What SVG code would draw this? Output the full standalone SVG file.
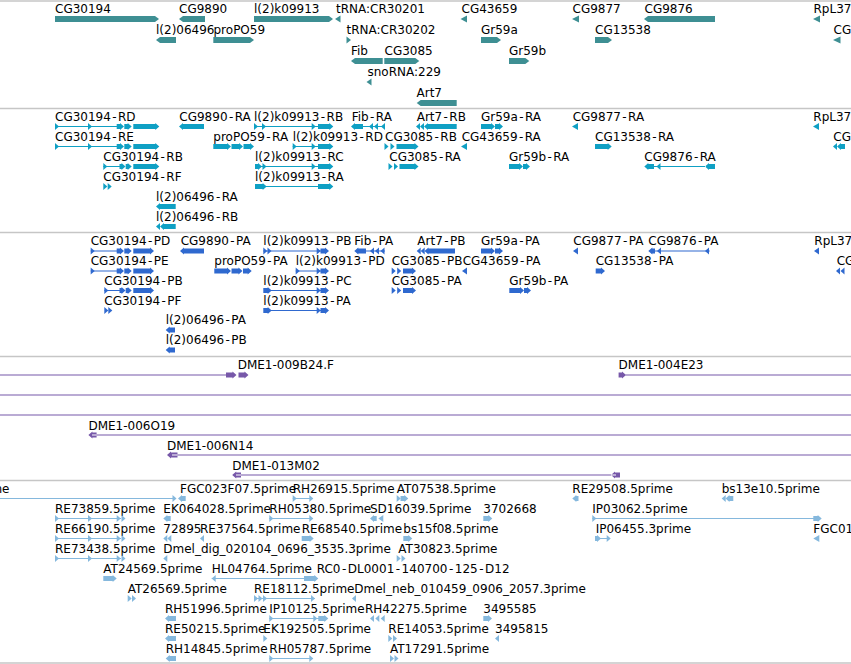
<svg xmlns="http://www.w3.org/2000/svg" width="851" height="664" viewBox="0 0 851 664">
<style>
text{font-family:"DejaVu Sans","Liberation Sans",sans-serif;font-size:12px;fill:#000}
.g{fill:#3e8f93}.t{fill:#0fa0c4}.p{fill:#2f69cf}.c{fill:#7758a9}.e{fill:#85b8dd}
.sep{stroke:#c6c6c6;stroke-width:1.5}
</style>
<defs>
<path id="tf" d="M0 -3.5L4 0L0 3.5Z"/>
<path id="tr" d="M0 0L4 -3.5V3.5Z"/>
</defs>
<rect width="851" height="664" fill="#fff"/>
<g id="tracks">
<line class="sep" x1="0" y1="1" x2="851" y2="1"/>
<line class="sep" x1="0" y1="108.5" x2="851" y2="108.5"/>
<line class="sep" x1="0" y1="232.5" x2="851" y2="232.5"/>
<line class="sep" x1="0" y1="356.5" x2="851" y2="356.5"/>
<line class="sep" x1="0" y1="480.5" x2="851" y2="480.5"/>
<line class="sep" x1="0" y1="663" x2="851" y2="663"/>
</g>

<!-- Track 1: genes -->
<g id="gene-CG30194" class="g" transform="translate(0,19)"><text x="55" y="-6.3">CG30194</text><path d="M55 -3h100l4 3l-4 3h-100z"/></g>
<g id="gene-CG9890" class="g" transform="translate(0,19)"><text x="179" y="-6.3">CG9890</text><path d="M205 -3h-22l-4 3l4 3h22z"/></g>
<g id="gene-l2k09913" class="g" transform="translate(0,19)"><text x="254" y="-6.3">l(2)k09913</text><path d="M254 -3h75l4 3l-4 3h-75z"/></g>
<g id="gene-tRNA-CR30201" class="g" transform="translate(0,19)"><text x="336" y="-6.3">tRNA:CR30201</text><path d="M335 0l5.5-3.5v7z"/></g>
<g id="gene-CG43659" class="g" transform="translate(0,19)"><text x="461.5" y="-6.3">CG43659</text><path d="M460.5 0l6.5-3.5v7z"/></g>
<g id="gene-CG9877" class="g" transform="translate(0,19)"><text x="572.5" y="-6.3">CG9877</text><path d="M572 0l7-3.5v7z"/></g>
<g id="gene-CG9876" class="g" transform="translate(0,19)"><text x="644.5" y="-6.3">CG9876</text><path d="M715 -3h-67l-4 3l4 3h67z"/></g>
<g id="gene-RpL37" class="g" transform="translate(0,19)"><text x="813.5" y="-6.3">RpL37</text><path d="M813 0l7-3.5v7z"/></g>

<g id="gene-l2-06496" class="g" transform="translate(0,40)"><text x="156" y="-6.3">l(2)06496</text><path d="M176 -3h-16l-4 3l4 3h16z"/></g>
<g id="gene-proPO59" class="g" transform="translate(0,40)"><text x="213.5" y="-6.3">proPO59</text><path d="M213.3 -3h36.7l4 3l-4 3h-36.7z"/></g>
<g id="gene-tRNA-CR30202" class="g" transform="translate(0,40)"><text x="346.5" y="-6.3">tRNA:CR30202</text><path d="M346.5 -3.5l4.5 3.5l-4.5 3.5z"/></g>
<g id="gene-Gr59a" class="g" transform="translate(0,40)"><text x="481" y="-6.3">Gr59a</text><path d="M481 -3h16l4 3l-4 3h-16z"/></g>
<g id="gene-CG13538" class="g" transform="translate(0,40)"><text x="595" y="-6.3">CG13538</text><path d="M595 -3h13l4 3l-4 3h-13z"/></g>
<g id="gene-CG-edge" class="g" transform="translate(0,40)"><text x="833.5" y="-6.3">CG</text><path d="M833 0l7.5-3.5v7z"/></g>

<g id="gene-Fib" class="g" transform="translate(0,61)"><text x="351" y="-6.3">Fib</text><path d="M382.7 -3h-27.7l-4 3l4 3h27.7z"/></g>
<g id="gene-CG3085" class="g" transform="translate(0,61)"><text x="384.5" y="-6.3">CG3085</text><path d="M384.3 -3h31l4 3l-4 3h-31z"/></g>
<g id="gene-Gr59b" class="g" transform="translate(0,61)"><text x="509" y="-6.3">Gr59b</text><path d="M509 -3h16.3l4 3l-4 3h-16.3z"/></g>
<g id="gene-snoRNA-229" class="g" transform="translate(0,82)"><text x="367.5" y="-6.3">snoRNA:229</text><path d="M366.5 0l5-3.5v7z"/></g>
<g id="gene-Art7" class="g" transform="translate(0,103)"><text x="416.5" y="-6.3">Art7</text><path d="M456.7 -3h-36l-4 3l4 3h36z"/></g>

<!-- Track 2: transcripts -->
<g id="tx-CG30194-RD" class="t" transform="translate(0,126.5)"><text x="55" y="-5.5">CG30194<tspan dx="1.4">-</tspan><tspan dx="1.4">RD</tspan></text><path d="M55 -0.5H117v1H55z M116.7 -2.5h3.3v-1l4 3.5l-4 3.5v-1h-3.3z M124.3 -2.5h3.4v-1l4 3.5l-4 3.5v-1h-3.4z M133.3 -2.5h22v-1l4 3.5l-4 3.5v-1h-22z"/><use href="#tf" x="55"/><use href="#tf" x="88"/></g>
<g id="tx-CG9890-RA" class="t" transform="translate(0,126.5)"><text x="179.3" y="-5.5">CG9890<tspan dx="1.4">-</tspan><tspan dx="1.4">RA</tspan></text><path d="M204 -2.5h-21v-1l-4 3.5l4 3.5v-1h21z"/></g>
<g id="tx-l2k09913-RB" class="t" transform="translate(0,126.5)"><text x="254" y="-5.5">l(2)k09913<tspan dx="1.4">-</tspan><tspan dx="1.4">RB</tspan></text><path d="M254 -0.5H318v1H254z M318 -2.5h11.3v-1l4 3.5l-4 3.5v-1h-11.3z"/><use href="#tf" x="254"/><use href="#tf" x="262"/><use href="#tf" x="311.7"/></g>
<g id="tx-Fib-RA" class="t" transform="translate(0,126.5)"><text x="351.7" y="-5.5">Fib<tspan dx="1.4">-</tspan><tspan dx="1.4">RA</tspan></text><path d="M363 -2.5h-8v-1l-4 3.5l4 3.5v-1h8z M363 -0.5H385v1H363z"/><use href="#tr" x="369"/><use href="#tr" x="374"/><use href="#tr" x="381"/></g>
<g id="tx-Art7-RB" class="t" transform="translate(0,126.5)"><text x="416.7" y="-5.5">Art7<tspan dx="1.4">-</tspan><tspan dx="1.4">RB</tspan></text><path d="M456.7 -2.5h-28.7v-1l-4 3.5l4 3.5v-1h28.7z"/><use href="#tr" x="416"/><use href="#tr" x="420"/></g>
<g id="tx-Gr59a-RA" class="t" transform="translate(0,126.5)"><text x="481" y="-5.5">Gr59a<tspan dx="1.4">-</tspan><tspan dx="1.4">RA</tspan></text><path d="M481 -2.5h10v-1l4 3.5l-4 3.5v-1h-10z M495 -2.5h4v-1l4 3.5l-4 3.5v-1h-4z"/></g>
<g id="tx-CG9877-RA" class="t" transform="translate(0,126.5)"><text x="572.7" y="-5.5">CG9877<tspan dx="1.4">-</tspan><tspan dx="1.4">RA</tspan></text><path d="M572 0l6-3.5v7z"/></g>
<g id="tx-RpL37" class="t" transform="translate(0,126.5)"><text x="813.3" y="-5.5">RpL37</text><path d="M813 0l6-3.5v7z"/></g>

<g id="tx-CG30194-RE" class="t" transform="translate(0,146.5)"><text x="55" y="-5.5">CG30194<tspan dx="1.4">-</tspan><tspan dx="1.4">RE</tspan></text><path d="M55 -0.5H117v1H55z M116.7 -2.5h3.3v-1l4 3.5l-4 3.5v-1h-3.3z M124.3 -2.5h3.4v-1l4 3.5l-4 3.5v-1h-3.4z M133.3 -2.5h22v-1l4 3.5l-4 3.5v-1h-22z"/><use href="#tf" x="55"/><use href="#tf" x="88"/></g>
<g id="tx-proPO59-RA" class="t" transform="translate(0,146.5)"><text x="213.3" y="-5.5">proPO59<tspan dx="1.4">-</tspan><tspan dx="1.4">RA</tspan></text><path d="M213.3 -2.5h13.7v-1l4 3.5l-4 3.5v-1h-13.7z M231.5 -2.5h7.5v-1l4 3.5l-4 3.5v-1h-7.5z M243.5 -2.5h6.5v-1l4 3.5l-4 3.5v-1h-6.5z"/></g>
<g id="tx-l2k09913-RD" class="t" transform="translate(0,146.5)"><text x="292.7" y="-5.5">l(2)k09913<tspan dx="1.4">-</tspan><tspan dx="1.4">RD</tspan></text><path d="M292.7 -0.5H318v1H292.7z M318 -2.5h11.3v-1l4 3.5l-4 3.5v-1h-11.3z"/><use href="#tf" x="292.7"/><use href="#tf" x="311.7"/></g>
<g id="tx-CG3085-RB" class="t" transform="translate(0,146.5)"><text x="385" y="-5.5">CG3085<tspan dx="1.4">-</tspan><tspan dx="1.4">RB</tspan></text><path d="M396.5 -2.5h18v-1l4 3.5l-4 3.5v-1h-18z"/><use href="#tf" x="384.5"/><use href="#tf" x="390.5"/></g>
<g id="tx-CG43659-RA" class="t" transform="translate(0,146.5)"><text x="461.7" y="-5.5">CG43659<tspan dx="1.4">-</tspan><tspan dx="1.4">RA</tspan></text><path d="M461 0l6-3.5v7z"/></g>
<g id="tx-CG13538-RA" class="t" transform="translate(0,146.5)"><text x="595" y="-5.5">CG13538<tspan dx="1.4">-</tspan><tspan dx="1.4">RA</tspan></text><path d="M595 -2.5h12.7v-1l4 3.5l-4 3.5v-1h-12.7z"/></g>
<g id="tx-CG-edge" class="t" transform="translate(0,146.5)"><text x="833.3" y="-5.5">CG</text><path d="M845 -2.5h-4v-1l-4 3.5l4 3.5v-1h4z"/><use href="#tr" x="833"/></g>

<g id="tx-CG30194-RB" class="t" transform="translate(0,166.5)"><text x="103.3" y="-5.5">CG30194<tspan dx="1.4">-</tspan><tspan dx="1.4">RB</tspan></text><path d="M103.3 -0.5H120v1H103.3z M119.5 -2.5h2v-1l4 3.5l-4 3.5v-1h-2z M125.7 -2.5h2v-1l4 3.5l-4 3.5v-1h-2z M133.3 -2.5h22v-1l4 3.5l-4 3.5v-1h-22z"/><use href="#tf" x="103.3"/></g>
<g id="tx-l2k09913-RC" class="t" transform="translate(0,166.5)"><text x="255" y="-5.5">l(2)k09913<tspan dx="1.4">-</tspan><tspan dx="1.4">RC</tspan></text><path d="M255 -0.5H318v1H255z M255 -2.5h3v-1l4 3.5l-4 3.5v-1h-3z M318 -2.5h11.3v-1l4 3.5l-4 3.5v-1h-11.3z"/><use href="#tf" x="262.5"/><use href="#tf" x="311.7"/></g>
<g id="tx-CG3085-RA" class="t" transform="translate(0,166.5)"><text x="389.3" y="-5.5">CG3085<tspan dx="1.4">-</tspan><tspan dx="1.4">RA</tspan></text><path d="M399.5 -2.5h15v-1l4 3.5l-4 3.5v-1h-15z"/><use href="#tf" x="388.5"/><use href="#tf" x="394"/></g>
<g id="tx-Gr59b-RA" class="t" transform="translate(0,166.5)"><text x="509" y="-5.5">Gr59b<tspan dx="1.4">-</tspan><tspan dx="1.4">RA</tspan></text><path d="M509 -2.5h10v-1l4 3.5l-4 3.5v-1h-10z M523 -2.5h3v-1l4 3.5l-4 3.5v-1h-3z"/></g>
<g id="tx-CG9876-RA" class="t" transform="translate(0,166.5)"><text x="644.3" y="-5.5">CG9876<tspan dx="1.4">-</tspan><tspan dx="1.4">RA</tspan></text><path d="M654 -2.5h-5.7v-1l-4 3.5l4 3.5v-1h5.7z M654 -0.5H706v1H654z M715 -2.5h-6v-1l-4 3.5l4 3.5v-1h6z"/><use href="#tr" x="656.5"/></g>

<g id="tx-CG30194-RF" class="t" transform="translate(0,186.5)"><text x="103.3" y="-5.5">CG30194<tspan dx="1.4">-</tspan><tspan dx="1.4">RF</tspan></text><use href="#tf" x="103.3"/><use href="#tf" x="107.7"/></g>
<g id="tx-l2k09913-RA" class="t" transform="translate(0,186.5)"><text x="255" y="-5.5">l(2)k09913<tspan dx="1.4">-</tspan><tspan dx="1.4">RA</tspan></text><path d="M255 -0.5H318v1H255z M255 -2.5h7.7v-1l4 3.5l-4 3.5v-1h-7.7z M318 -2.5h11.3v-1l4 3.5l-4 3.5v-1h-11.3z"/></g>
<g id="tx-l2-06496-RA" class="t" transform="translate(0,206.5)"><text x="156" y="-5.5">l(2)06496<tspan dx="1.4">-</tspan><tspan dx="1.4">RA</tspan></text><path d="M175.7 -2.5h-15.7v-1l-4 3.5l4 3.5v-1h15.7z"/></g>
<g id="tx-l2-06496-RB" class="t" transform="translate(0,226.5)"><text x="156" y="-5.5">l(2)06496<tspan dx="1.4">-</tspan><tspan dx="1.4">RB</tspan></text><path d="M175.7 -2.5h-11.7v-1l-4 3.5l4 3.5v-1h11.7z"/><use href="#tr" x="156"/></g>

<!-- Track 3: proteins -->
<g id="pp-CG30194-PD" class="p" transform="translate(0,251)"><text x="90.7" y="-6">CG30194<tspan dx="1.4">-</tspan><tspan dx="1.4">PD</tspan></text><path d="M90.7 -0.5H117v1H90.7z M116.7 -2.5h3.3v-1l4 3.5l-4 3.5v-1h-3.3z M124.3 -2.5h3.4v-1l4 3.5l-4 3.5v-1h-3.4z M133.3 -2.5h16.7v-1l4 3.5l-4 3.5v-1h-16.7z"/><use href="#tf" x="90.7"/></g>
<g id="pp-CG9890-PA" class="p" transform="translate(0,251)"><text x="180.7" y="-6">CG9890<tspan dx="1.4">-</tspan><tspan dx="1.4">PA</tspan></text><path d="M204 -2.5h-20v-1l-4 3.5l4 3.5v-1h20z"/></g>
<g id="pp-l2k09913-PB" class="p" transform="translate(0,251)"><text x="263.3" y="-6">l(2)k09913<tspan dx="1.4">-</tspan><tspan dx="1.4">PB</tspan></text><path d="M263.3 -0.5H321v1H263.3z M320.5 -2.5h4.5v-1l4 3.5l-4 3.5v-1h-4.5z"/><use href="#tf" x="263.3"/><use href="#tf" x="267.5"/><use href="#tf" x="316.7"/></g>
<g id="pp-Fib-PA" class="p" transform="translate(0,251)"><text x="354.3" y="-6">Fib<tspan dx="1.4">-</tspan><tspan dx="1.4">PA</tspan></text><path d="M366 -2.5h-7.7v-1l-4 3.5l4 3.5v-1h7.7z M366 -0.5H385v1H366z"/><use href="#tr" x="370"/><use href="#tr" x="375"/><use href="#tr" x="380.5"/></g>
<g id="pp-Art7-PB" class="p" transform="translate(0,251)"><text x="417.3" y="-6">Art7<tspan dx="1.4">-</tspan><tspan dx="1.4">PB</tspan></text><path d="M455 -2.5h-26.5v-1l-4 3.5l4 3.5v-1h26.5z"/><use href="#tr" x="416.7"/><use href="#tr" x="420.7"/></g>
<g id="pp-Gr59a-PA" class="p" transform="translate(0,251)"><text x="481" y="-6">Gr59a<tspan dx="1.4">-</tspan><tspan dx="1.4">PA</tspan></text><path d="M481 -2.5h10v-1l4 3.5l-4 3.5v-1h-10z M495 -2.5h4v-1l4 3.5l-4 3.5v-1h-4z"/></g>
<g id="pp-CG9877-PA" class="p" transform="translate(0,251)"><text x="573.3" y="-6">CG9877<tspan dx="1.4">-</tspan><tspan dx="1.4">PA</tspan></text><path d="M573 0l5-3.5v7z"/></g>
<g id="pp-CG9876-PA" class="p" transform="translate(0,251)"><text x="648.3" y="-6">CG9876<tspan dx="1.4">-</tspan><tspan dx="1.4">PA</tspan></text><path d="M655 -2.5h-2.7v-1l-4 3.5l4 3.5v-1h2.7z M655 -0.5H709.7v1H655z"/><use href="#tr" x="657"/><use href="#tr" x="705"/></g>
<g id="pp-RpL37" class="p" transform="translate(0,251)"><text x="814.3" y="-6">RpL37</text><path d="M814 0l5-3.5v7z"/></g>

<g id="pp-CG30194-PE" class="p" transform="translate(0,271)"><text x="90.7" y="-6">CG30194<tspan dx="1.4">-</tspan><tspan dx="1.4">PE</tspan></text><path d="M90.7 -0.5H117v1H90.7z M116.7 -2.5h3.3v-1l4 3.5l-4 3.5v-1h-3.3z M124.3 -2.5h3.4v-1l4 3.5l-4 3.5v-1h-3.4z M133.3 -2.5h16.7v-1l4 3.5l-4 3.5v-1h-16.7z"/><use href="#tf" x="90.7"/></g>
<g id="pp-proPO59-PA" class="p" transform="translate(0,271)"><text x="214.3" y="-6">proPO59<tspan dx="1.4">-</tspan><tspan dx="1.4">PA</tspan></text><path d="M214.3 -2.5h12.7v-1l4 3.5l-4 3.5v-1h-12.7z M231.5 -2.5h7v-1l4 3.5l-4 3.5v-1h-7z M243 -2.5h4.7v-1l4 3.5l-4 3.5v-1h-4.7z"/></g>
<g id="pp-l2k09913-PD" class="p" transform="translate(0,271)"><text x="295.7" y="-6">l(2)k09913<tspan dx="1.4">-</tspan><tspan dx="1.4">PD</tspan></text><path d="M295.7 -0.5H321v1H295.7z M320.5 -2.5h4.5v-1l4 3.5l-4 3.5v-1h-4.5z"/><use href="#tf" x="295.7"/><use href="#tf" x="316.7"/></g>
<g id="pp-CG3085-PB" class="p" transform="translate(0,271)"><text x="391.7" y="-6">CG3085<tspan dx="1.4">-</tspan><tspan dx="1.4">PB</tspan></text><path d="M403 -2.5h9v-1l4 3.5l-4 3.5v-1h-9z"/><use href="#tf" x="391.7"/><use href="#tf" x="397.2"/></g>
<g id="pp-CG43659-PA" class="p" transform="translate(0,271)"><text x="462.7" y="-6">CG43659<tspan dx="1.4">-</tspan><tspan dx="1.4">PA</tspan></text><path d="M462 0l5-3.5v7z"/></g>
<g id="pp-CG13538-PA" class="p" transform="translate(0,271)"><text x="595.7" y="-6">CG13538<tspan dx="1.4">-</tspan><tspan dx="1.4">PA</tspan></text><path d="M595.7 -2.5h5.3v-1l4 3.5l-4 3.5v-1h-5.3z"/></g>
<g id="pp-CG-edge" class="p" transform="translate(0,271)"><text x="836.7" y="-6">CG</text><use href="#tr" x="836"/><use href="#tr" x="840.5"/></g>

<g id="pp-CG30194-PB" class="p" transform="translate(0,290.5)"><text x="104.3" y="-6">CG30194<tspan dx="1.4">-</tspan><tspan dx="1.4">PB</tspan></text><path d="M104.3 -0.5H120v1H104.3z M119.5 -2.5h2v-1l4 3.5l-4 3.5v-1h-2z M125.7 -2.5h2v-1l4 3.5l-4 3.5v-1h-2z M133.3 -2.5h16.7v-1l4 3.5l-4 3.5v-1h-16.7z"/><use href="#tf" x="104.3"/></g>
<g id="pp-l2k09913-PC" class="p" transform="translate(0,290.5)"><text x="263.3" y="-6">l(2)k09913<tspan dx="1.4">-</tspan><tspan dx="1.4">PC</tspan></text><path d="M263.3 -0.5H321v1H263.3z M263.3 -2.5h4.4v-1l4 3.5l-4 3.5v-1h-4.4z M320.5 -2.5h4.5v-1l4 3.5l-4 3.5v-1h-4.5z"/><use href="#tf" x="316.7"/></g>
<g id="pp-CG3085-PA" class="p" transform="translate(0,290.5)"><text x="391.7" y="-6">CG3085<tspan dx="1.4">-</tspan><tspan dx="1.4">PA</tspan></text><path d="M403 -2.5h9v-1l4 3.5l-4 3.5v-1h-9z"/><use href="#tf" x="391.7"/><use href="#tf" x="397.2"/></g>
<g id="pp-Gr59b-PA" class="p" transform="translate(0,290.5)"><text x="509.3" y="-6">Gr59b<tspan dx="1.4">-</tspan><tspan dx="1.4">PA</tspan></text><path d="M509.3 -2.5h10.7v-1l4 3.5l-4 3.5v-1h-10.7z M524 -2.5h3v-1l4 3.5l-4 3.5v-1h-3z"/></g>

<g id="pp-CG30194-PF" class="p" transform="translate(0,310.5)"><text x="104.3" y="-6">CG30194<tspan dx="1.4">-</tspan><tspan dx="1.4">PF</tspan></text><use href="#tf" x="104.3"/><use href="#tf" x="108.3"/></g>
<g id="pp-l2k09913-PA" class="p" transform="translate(0,310.5)"><text x="263.3" y="-6">l(2)k09913<tspan dx="1.4">-</tspan><tspan dx="1.4">PA</tspan></text><path d="M263.3 -0.5H321v1H263.3z M263.3 -2.5h4.4v-1l4 3.5l-4 3.5v-1h-4.4z M320.5 -2.5h4.5v-1l4 3.5l-4 3.5v-1h-4.5z"/><use href="#tf" x="316.7"/></g>
<g id="pp-l2-06496-PA" class="p" transform="translate(0,330)"><text x="165.7" y="-6">l(2)06496<tspan dx="1.4">-</tspan><tspan dx="1.4">PA</tspan></text><path d="M175 -2.5h-5.3v-1l-4 3.5l4 3.5v-1h5.3z"/></g>
<g id="pp-l2-06496-PB" class="p" transform="translate(0,350)"><text x="165.7" y="-6">l(2)06496<tspan dx="1.4">-</tspan><tspan dx="1.4">PB</tspan></text><path d="M175 -2.5h-5.3v-1l-4 3.5l4 3.5v-1h5.3z"/></g>

<!-- Track 4: clones -->
<g id="clone-DME1-009B24F" class="c" transform="translate(0,375)"><text x="237.7" y="-6.5">DME1-009B24.F</text><path d="M0 -0.6H230v1.2H0z M226 -2.5h6.5v-1l4 3.5l-4 3.5v-1h-6.5z M238.5 -2.5h6v-1l4 3.5l-4 3.5v-1h-6z"/></g>
<g id="clone-DME1-004E23" class="c" transform="translate(0,375)"><text x="618.6" y="-6.5">DME1-004E23</text><path d="M622 -0.6H851v1.2H622z M618.6 -2.5h3.4v-1l4 3.5l-4 3.5v-1h-3.4z"/></g>
<g id="clone-span-1" class="c" transform="translate(0,395)"><path d="M0 -0.6H851v1.2H0z"/></g>
<g id="clone-span-2" class="c" transform="translate(0,415)"><path d="M0 -0.6H851v1.2H0z"/></g>
<g id="clone-DME1-006O19" class="c" transform="translate(0,435)"><text x="88.4" y="-5.5">DME1-006O19</text><path d="M92 -0.6H851v1.2H92z M96.6 -2.5h-4.2v-1l-4 3.5l4 3.5v-1h4.2z"/></g>
<g id="clone-DME1-006N14" class="c" transform="translate(0,455)"><text x="167" y="-5.5">DME1-006N14</text><path d="M172 -0.6H851v1.2H172z M177.5 -2.5h-6.5v-1l-4 3.5l4 3.5v-1h6.5z"/></g>
<g id="clone-DME1-013M02" class="c" transform="translate(0,475)"><text x="232.2" y="-5.5">DME1-013M02</text><path d="M236 -0.6H616v1.2H236z M241 -2.5h-4.8v-1l-4 3.5l4 3.5v-1h4.8z M620 -2.5h-5v-1l-4 3.5l4 3.5v-1h5z"/></g>

<!-- Track 5: ESTs -->
<g id="est-ime" class="e" transform="translate(0,498.5)"><text x="9.5" y="-5.5" text-anchor="end">ime</text><path d="M0 -0.5H176v1H0z"/><use href="#tf" x="172.5"/></g>
<g id="est-FGC023F07" class="e" transform="translate(0,498.5)"><text x="180" y="-5.5">FGC023F07.5prime</text><path d="M185.7 -2.5h-3.7v-1l-4 3.5l4 3.5v-1h3.7z"/></g>
<g id="est-RH26915" class="e" transform="translate(0,498.5)"><text x="292.7" y="-5.5">RH26915.5prime</text><path d="M292.7 -0.5H313v1H292.7z"/><use href="#tf" x="292.7"/><use href="#tf" x="309.3"/></g>
<g id="est-AT07538" class="e" transform="translate(0,498.5)"><text x="396.7" y="-5.5">AT07538.5prime</text><path d="M400.5 -2.5h3.8v-1l4 3.5l-4 3.5v-1h-3.8z"/><use href="#tf" x="396.7"/></g>
<g id="est-RE29508" class="e" transform="translate(0,498.5)"><text x="572.3" y="-5.5">RE29508.5prime</text><path d="M578.5 -2.5h-2.2v-1l-4 3.5l4 3.5v-1h2.2z"/></g>
<g id="est-bs13e10" class="e" transform="translate(0,498.5)"><text x="721.7" y="-5.5">bs13e10.5prime</text><path d="M733.3 -2.5h-3.8v-1l-4 3.5l4 3.5v-1h3.8z"/><use href="#tr" x="721.7"/></g>

<g id="est-RE73859" class="e" transform="translate(0,518.5)"><text x="55" y="-5.5">RE73859.5prime</text><path d="M55 -0.5H121v1H55z"/><use href="#tf" x="55"/><use href="#tf" x="88"/><use href="#tf" x="116.7"/><use href="#tf" x="121.5"/></g>
<g id="est-EK064028" class="e" transform="translate(0,518.5)"><text x="163.3" y="-5.5">EK064028.5prime</text><path d="M170.7 -2.5h-3.4v-1l-4 3.5l4 3.5v-1h3.4z"/></g>
<g id="est-RH05380" class="e" transform="translate(0,518.5)"><text x="269.3" y="-5.5">RH05380.5prime</text><path d="M269.3 -0.5H313v1H269.3z"/><use href="#tf" x="269.3"/><use href="#tf" x="309.3"/></g>
<g id="est-SD16039" class="e" transform="translate(0,518.5)"><text x="370" y="-5.5">SD16039.5prime</text><path d="M376.7 -2.5h-2.7v-1l-4 3.5l4 3.5v-1h2.7z M378.3 0l5-3.5v7z"/></g>
<g id="est-3702668" class="e" transform="translate(0,518.5)"><text x="483.3" y="-5.5">3702668</text><path d="M483.3 -2.5h5v-1l4 3.5l-4 3.5v-1h-5z"/></g>
<g id="est-IP03062" class="e" transform="translate(0,518.5)"><text x="592.3" y="-5.5">IP03062.5prime</text><path d="M592.3 -0.5H815v1H592.3z M813.3 -2.5h4.4v-1l4 3.5l-4 3.5v-1h-4.4z"/><use href="#tf" x="592.3"/></g>

<g id="est-RE66190" class="e" transform="translate(0,538.5)"><text x="55" y="-5.5">RE66190.5prime</text><path d="M55 -0.5H121v1H55z"/><use href="#tf" x="55"/><use href="#tf" x="88"/><use href="#tf" x="116.7"/><use href="#tf" x="121.5"/></g>
<g id="est-72895" class="e" transform="translate(0,538.5)"><text x="163.3" y="-5.5">72895</text><use href="#tr" x="163.3"/><use href="#tr" x="167.3"/></g>
<g id="est-RE37564" class="e" transform="translate(0,538.5)"><text x="200" y="-5.5">RE37564.5prime</text><use href="#tr" x="200"/></g>
<g id="est-RE68540" class="e" transform="translate(0,538.5)"><text x="301.7" y="-5.5">RE68540.5prime</text><path d="M301.7 -2.5h8v-1l4 3.5l-4 3.5v-1h-8z"/></g>
<g id="est-bs15f08" class="e" transform="translate(0,538.5)"><text x="403.3" y="-5.5">bs15f08.5prime</text><path d="M403.3 -2.5h5v-1l4 3.5l-4 3.5v-1h-5z"/></g>
<g id="est-IP06455" class="e" transform="translate(0,538.5)"><text x="595.7" y="-5.5">IP06455.3prime</text><path d="M595 -0.5H607v1H595z M595 -2.5h2v-1l4 3.5l-4 3.5v-1h-2z"/><use href="#tf" x="606.7"/></g>
<g id="est-FGC01" class="e" transform="translate(0,538.5)"><text x="813.3" y="-5.5">FGC01</text><path d="M813.3 0l6-3.5v7z"/></g>

<g id="est-RE73438" class="e" transform="translate(0,558.5)"><text x="55" y="-5.5">RE73438.5prime</text><path d="M55 -0.5H121v1H55z"/><use href="#tf" x="55"/><use href="#tf" x="88"/><use href="#tf" x="116.7"/><use href="#tf" x="121.5"/></g>
<g id="est-Dmel-dig" class="e" transform="translate(0,558.5)"><text x="163.3" y="-5.5">Dmel_dig_020104_0696_3535.3prime</text><use href="#tr" x="163.3"/></g>
<g id="est-AT30823" class="e" transform="translate(0,558.5)"><text x="398.3" y="-5.5">AT30823.5prime</text><use href="#tf" x="396.7"/><use href="#tf" x="401.5"/></g>

<g id="est-AT24569" class="e" transform="translate(0,578.5)"><text x="103.3" y="-5.5">AT24569.5prime</text><path d="M103.3 -2.5h9.4v-1l4 3.5l-4 3.5v-1h-9.4z"/></g>
<g id="est-HL04764" class="e" transform="translate(0,578.5)"><text x="211.7" y="-5.5">HL04764.5prime</text><path d="M211.7 -0.5H310v1H211.7z M304 -2.5h10.3v-1l4 3.5l-4 3.5v-1h-10.3z"/><use href="#tr" x="211.7"/></g>
<g id="est-RC0-DL0001" class="e" transform="translate(0,578.5)"><text x="316.7" y="-5.5">RC0<tspan dx="1.5">-</tspan><tspan dx="1.5">DL0001</tspan><tspan dx="1.5">-</tspan><tspan dx="1.5">140700</tspan><tspan dx="1.5">-</tspan><tspan dx="1.5">125</tspan><tspan dx="1.5">-</tspan><tspan dx="1.5">D12</tspan></text></g>

<g id="est-AT26569" class="e" transform="translate(0,598.5)"><text x="127.7" y="-5.5">AT26569.5prime</text><use href="#tf" x="127.7"/><use href="#tf" x="132"/></g>
<g id="est-RE18112" class="e" transform="translate(0,598.5)"><text x="254" y="-5.5">RE18112.5prime</text><path d="M254 -0.5H315v1H254z"/><use href="#tf" x="254"/><use href="#tf" x="258.5"/><use href="#tf" x="263"/><use href="#tf" x="311"/></g>
<g id="est-Dmel-neb" class="e" transform="translate(0,598.5)"><text x="354.3" y="-5.5">Dmel_neb_010459_0906_2057.3prime</text><use href="#tr" x="352"/></g>

<g id="est-RH51996" class="e" transform="translate(0,618.5)"><text x="165" y="-5.5">RH51996.5prime</text><path d="M176 -2.5h-7v-1l-4 3.5l4 3.5v-1h7z"/></g>
<g id="est-IP10125" class="e" transform="translate(0,618.5)"><text x="269.3" y="-5.5">IP10125.5prime</text><path d="M269.3 -0.5H327v1H269.3z M318.3 -2.5h6v-1l4 3.5l-4 3.5v-1h-6z"/><use href="#tf" x="269.3"/><use href="#tf" x="313.3"/></g>
<g id="est-RH42275" class="e" transform="translate(0,618.5)"><text x="365" y="-5.5">RH42275.5prime</text><use href="#tr" x="370"/><use href="#tr" x="375.3"/><use href="#tr" x="380.7"/></g>
<g id="est-3495585" class="e" transform="translate(0,618.5)"><text x="483.3" y="-5.5">3495585</text><path d="M483.3 -2.5h4.7v-1l4 3.5l-4 3.5v-1h-4.7z"/></g>

<g id="est-RE50215" class="e" transform="translate(0,638.5)"><text x="165" y="-5.5">RE50215.5prime</text><path d="M176 -2.5h-7v-1l-4 3.5l4 3.5v-1h7z"/></g>
<g id="est-EK192505" class="e" transform="translate(0,638.5)"><text x="263.3" y="-5.5">EK192505.5prime</text><use href="#tf" x="263.3"/></g>
<g id="est-RE14053" class="e" transform="translate(0,638.5)"><text x="388.3" y="-5.5">RE14053.5prime</text><use href="#tf" x="388.3"/><use href="#tf" x="393"/></g>
<g id="est-3495815" class="e" transform="translate(0,638.5)"><text x="495" y="-5.5">3495815</text><use href="#tr" x="495"/></g>

<g id="est-RH14845" class="e" transform="translate(0,658.5)"><text x="165.7" y="-5.5">RH14845.5prime</text><path d="M176 -2.5h-6.3v-1l-4 3.5l4 3.5v-1h6.3z"/></g>
<g id="est-RH05787" class="e" transform="translate(0,658.5)"><text x="269.3" y="-5.5">RH05787.5prime</text><path d="M269.3 -0.5H313v1H269.3z"/><use href="#tf" x="269.3"/><use href="#tf" x="309.3"/></g>
<g id="est-AT17291" class="e" transform="translate(0,658.5)"><text x="390" y="-5.5">AT17291.5prime</text><use href="#tf" x="390"/><use href="#tf" x="394.5"/></g>
</svg>
